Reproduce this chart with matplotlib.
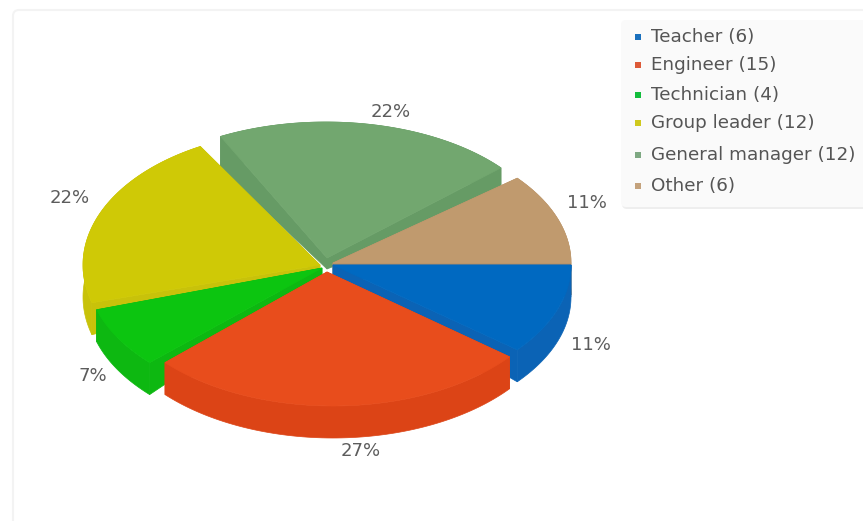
import numpy as np
import matplotlib
matplotlib.use("Agg")
import matplotlib.pyplot as plt
from matplotlib.patches import FancyBboxPatch, Polygon

# Headcount per role, in drawing order round the pie
roles = ["Teacher", "Engineer", "Technician", "Group leader", "General manager", "Other"]
counts = [6, 15, 4, 12, 12, 6]

top_colors = ["#0069c1", "#e84d1c", "#0cc510", "#cfc906", "#72a76f", "#c09a6e"]
wall_colors = ["#0b63b5", "#dc4416", "#0db811", "#c8c20a", "#669b65", "#b89268"]
legend_colors = ["#1a70bd", "#dd5a38", "#12bd3c", "#cfc91e", "#7ea882", "#c4a27c"]

# Geometry of each exploded slice, in pixels: rim centre, apex, radii
rim_centers = [(333, 265), (333, 272), (325, 272), (303, 265), (326, 247), (333, 263)]
apexes = [(333, 265), (327, 272), (322, 268), (320, 265), (327, 258), (333, 263)]
radii_x = [238, 228, 238, 220, 226, 238]
radii_y = [134, 134, 134, 134, 125, 134]
WALL_DEPTH = 32
APEX_DEPTH = 11

# Back-to-front painting order of the slices
paint_order = [4, 5, 3, 0, 2, 1]

percent_positions = [(591, 345), (361, 451), (93, 376), (70, 198), (391, 112), (587, 203)]
legend_rows = [37, 65, 95, 123, 155, 186]

fig = plt.figure(figsize=(8.63, 5.21), dpi=100)
ax = fig.add_axes([0, 0, 1, 1])
ax.set_xlim(0, 863)
ax.set_ylim(521, 0)
ax.axis("off")

# Card behind the chart
ax.add_patch(FancyBboxPatch((13, 10), 900, 560, boxstyle="round,pad=0,rounding_size=6",
                            fc="white", ec="#f3f3f3", lw=1.5, zorder=0))

shares = np.array(counts, dtype=float) / sum(counts)
edges = np.concatenate([[0.0], np.cumsum(shares)]) * 2 * np.pi


def rim(i, depth=0.0):
    """Points along the outer edge of slice i, pushed down by depth."""
    t = np.linspace(edges[i], edges[i + 1], 80)
    cx, cy = rim_centers[i]
    return np.column_stack([cx + radii_x[i] * np.cos(t),
                            cy + radii_y[i] * np.sin(t) + depth])


for z, i in enumerate(paint_order):
    top = rim(i)
    bottom = rim(i, WALL_DEPTH)
    apex = np.array([apexes[i]], dtype=float)
    apex_low = apex + [0, APEX_DEPTH]
    base = 2 + z * 2
    # Outer wall plus the two radial walls, which taper towards the apex
    outline = np.vstack([top, bottom[::-1]])
    ax.add_patch(Polygon(outline, fc=wall_colors[i], ec=wall_colors[i], lw=0.5, zorder=base))
    for end in (0, -1):
        quad = np.vstack([apex, top[end], bottom[end], apex_low])
        ax.add_patch(Polygon(quad, fc=wall_colors[i], ec=wall_colors[i], lw=0.5, zorder=base))
    ax.add_patch(Polygon(np.vstack([apex, top]), fc=top_colors[i], ec=top_colors[i],
                         lw=0.5, zorder=base + 1))

# Percentage labels outside the slices
for share, (x, y) in zip(shares, percent_positions):
    ax.text(x, y, f"{share * 100:.0f}%", ha="center", va="center",
            fontsize=13, color="#5c5c5c", zorder=30)

# Legend panel running off the right-hand edge
ax.add_patch(FancyBboxPatch((622, 22), 300, 187, boxstyle="round,pad=0,rounding_size=5",
                            fc="#eeeeee", ec="none", zorder=30))
ax.add_patch(FancyBboxPatch((621, 20), 300, 187, boxstyle="round,pad=0,rounding_size=5",
                            fc="#fafafa", ec="none", zorder=31))
for name, count, color, y in zip(roles, counts, legend_colors, legend_rows):
    ax.scatter([638], [y], marker="s", s=24, color=color, linewidths=0, zorder=32)
    ax.text(651, y, f"{name} ({count})", ha="left", va="center",
            fontsize=13.2, color="#555555", zorder=32)

fig.savefig("out.png", dpi=100)
